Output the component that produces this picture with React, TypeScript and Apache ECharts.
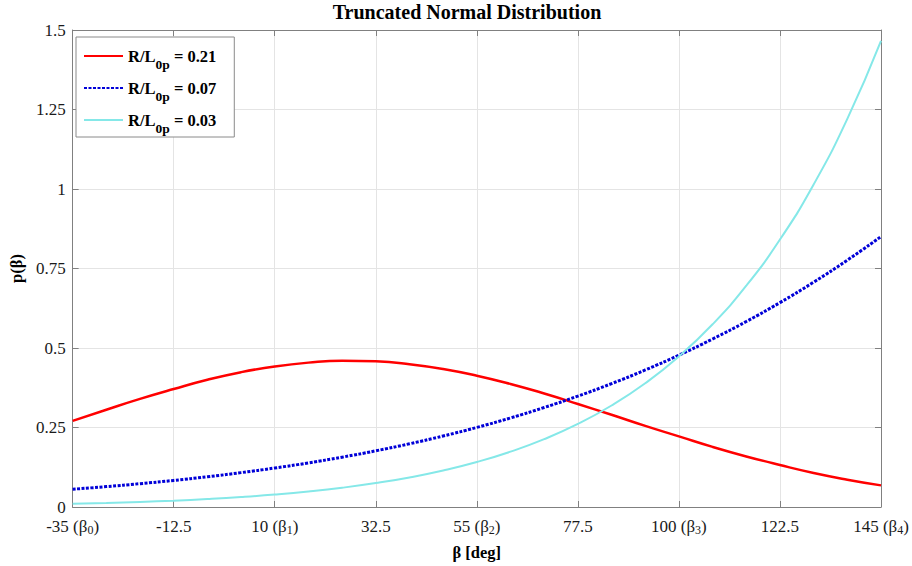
import React, { useEffect, useRef } from 'react';
import * as echarts from 'echarts';

// β in degrees, sampled every 7.5°
const betaDeg = [-35, -27.5, -20, -12.5, -5, 2.5, 10, 17.5, 25, 32.5, 40, 47.5, 55, 62.5, 70, 77.5, 85, 92.5, 100, 107.5, 115, 122.5, 130, 137.5, 145];

// p(β) for each R/L0p value
const pRL021 = [0.271, 0.306, 0.340, 0.371, 0.400, 0.424, 0.442, 0.454, 0.460, 0.458, 0.449, 0.434, 0.413, 0.387, 0.357, 0.324, 0.290, 0.255, 0.222, 0.189, 0.159, 0.132, 0.107, 0.086, 0.068];
const pRL007 = [0.0560, 0.0641, 0.0733, 0.0836, 0.0951, 0.1081, 0.1226, 0.1387, 0.1567, 0.1767, 0.1988, 0.2233, 0.2503, 0.2801, 0.3129, 0.3488, 0.3880, 0.4309, 0.4775, 0.5283, 0.5833, 0.6428, 0.7070, 0.7762, 0.8504];
const pRL003 = [0.0101, 0.0127, 0.0160, 0.0200, 0.0251, 0.0314, 0.0392, 0.0488, 0.0606, 0.0752, 0.0930, 0.1149, 0.1415, 0.1740, 0.2134, 0.2613, 0.3192, 0.3891, 0.4733, 0.5745, 0.6958, 0.8410, 1.0142, 1.2206, 1.4659];

const seriesNames = ['R/L0p = 0.21', 'R/L0p = 0.07', 'R/L0p = 0.03'];
const seriesColors = ['#ff0000', '#0000d8', '#85e8e8'];

const xTickLabels = ['-35 (β₀)', '-12.5', '10 (β₁)', '32.5', '55 (β₂)', '77.5', '100 (β₃)', '122.5', '145 (β₄)'];
const yTickLabels = ['0', '0.25', '0.5', '0.75', '1', '1.25', '1.5'];

const X_MIN = -35;
const X_MAX = 145;
const X_STEP = 22.5;
const Y_MIN = 0;
const Y_MAX = 1.5;
const Y_STEP = 0.25;

const SERIF = "'Liberation Serif', 'DejaVu Serif', serif";
const AXIS_GRAY = '#808080';
const SUBS = '₀₁₂₃₄₅₆₇₈₉';

// turn unicode subscript digits into rich-text tokens
const toRich = (label: string) => {
  let out = '';
  let buf = '';
  let sub = '';
  const flushN = () => { if (buf) { out += `{n|${buf}}`; buf = ''; } };
  const flushS = () => { if (sub) { out += `{s|${sub}}`; sub = ''; } };
  for (const ch of label) {
    const k = SUBS.indexOf(ch);
    if (k >= 0) { flushN(); sub += String(k); } else { flushS(); buf += ch; }
  }
  flushN();
  flushS();
  return out;
};

export default function App() {
  const ref = useRef<HTMLDivElement>(null);

  useEffect(() => {
    if (!ref.current) return;
    const chart = echarts.init(ref.current, null, { renderer: 'svg' });

    const toPairs = (vals: number[]) => betaDeg.map((x, i) => [x, vals[i]]);

    const tickStyle = { inside: true, length: 6, lineStyle: { color: AXIS_GRAY, width: 1 } };
    const lineStyleAxis = { show: true, onZero: false, lineStyle: { color: AXIS_GRAY, width: 1 } };

    chart.setOption({
      animation: false,
      backgroundColor: '#ffffff',
      title: {
        text: 'Truncated Normal Distribution',
        left: 467,
        textAlign: 'center',
        top: 2,
        padding: 0,
        textStyle: { fontFamily: SERIF, fontWeight: 'bold', fontSize: 20, color: '#000' },
      },
      grid: { left: 70, right: 31, top: 30, bottom: 57, containLabel: false },
      legend: {
        data: seriesNames,
        orient: 'vertical',
        left: 76,
        top: 37,
        itemWidth: 39,
        itemHeight: 14,
        itemGap: 2,
        padding: [4, 18, 2, 7],
        backgroundColor: '#ffffff',
        borderColor: '#8a8a8a',
        borderWidth: 1,
        borderRadius: 0,
        itemStyle: { opacity: 0 },
        formatter: (name: string) => {
          const rest = name.replace('R/L0p', '');
          return `{m|R/L}{s|0p}{m|${rest}}`;
        },
        textStyle: {
          rich: {
            m: { fontFamily: SERIF, fontWeight: 'bold', fontSize: 16.5, lineHeight: 20, color: '#000' },
            s: { fontFamily: SERIF, fontWeight: 'bold', fontSize: 13.5, lineHeight: 20, color: '#000', padding: [16, 0, 0, 0] },
          },
        },
      },
      xAxis: [
        {
          type: 'value',
          position: 'bottom',
          min: X_MIN,
          max: X_MAX,
          interval: X_STEP,
          axisLine: lineStyleAxis,
          axisTick: tickStyle,
          axisLabel: {
            margin: 11,
            color: '#1a1a1a',
            formatter: (v: number) => toRich(xTickLabels[Math.round((v - X_MIN) / X_STEP)] ?? ''),
            rich: {
              n: { fontFamily: SERIF, fontSize: 17, lineHeight: 16, color: '#1a1a1a' },
              s: { fontFamily: SERIF, fontSize: 12, lineHeight: 16, color: '#1a1a1a', padding: [7, 0, 0, 0] },
            },
          },
          splitLine: { show: true, lineStyle: { color: '#e4e4e4', width: 1 } },
          name: 'β [deg]',
          nameLocation: 'middle',
          nameGap: 37,
          nameTextStyle: { fontFamily: SERIF, fontWeight: 'bold', fontSize: 16.5, color: '#000' },
        },
        {
          type: 'value',
          position: 'top',
          min: X_MIN,
          max: X_MAX,
          interval: X_STEP,
          axisLine: lineStyleAxis,
          axisTick: tickStyle,
          axisLabel: { show: false },
          splitLine: { show: false },
        },
      ],
      yAxis: [
        {
          type: 'value',
          position: 'left',
          min: Y_MIN,
          max: Y_MAX,
          interval: Y_STEP,
          axisLine: lineStyleAxis,
          axisTick: tickStyle,
          axisLabel: {
            margin: 7,
            fontFamily: SERIF,
            fontSize: 17,
            lineHeight: 13,
            color: '#1a1a1a',
            formatter: (v: number) => yTickLabels[Math.round((v - Y_MIN) / Y_STEP)] ?? '',
          },
          splitLine: { show: true, lineStyle: { color: '#e4e4e4', width: 1 } },
          name: 'p(β)',
          nameLocation: 'middle',
          nameGap: 46,
          nameTextStyle: { fontFamily: SERIF, fontWeight: 'bold', fontSize: 16.5, color: '#000' },
        },
        {
          type: 'value',
          position: 'right',
          min: Y_MIN,
          max: Y_MAX,
          interval: Y_STEP,
          axisLine: lineStyleAxis,
          axisTick: tickStyle,
          axisLabel: { show: false },
          splitLine: { show: false },
        },
      ],
      series: [
        {
          name: seriesNames[0],
          type: 'line',
          data: toPairs(pRL021),
          smooth: true,
          symbol: 'none',
          showSymbol: false,
          lineStyle: { color: seriesColors[0], width: 2.5 },
          itemStyle: { color: seriesColors[0] },
        },
        {
          name: seriesNames[1],
          type: 'line',
          data: toPairs(pRL007),
          smooth: true,
          symbol: 'none',
          showSymbol: false,
          lineStyle: { color: seriesColors[1], width: 3, type: [3, 1.5] },
          itemStyle: { color: seriesColors[1] },
        },
        {
          name: seriesNames[2],
          type: 'line',
          data: toPairs(pRL003),
          smooth: true,
          symbol: 'none',
          showSymbol: false,
          lineStyle: { color: seriesColors[2], width: 2 },
          itemStyle: { color: seriesColors[2] },
        },
      ],
    });

    return () => {
      chart.dispose();
    };
  }, []);

  return (
    <div
      ref={ref}
      style={{ position: 'fixed', left: 0, top: 0, width: 912, height: 566, background: '#fff' }}
    />
  );
}
